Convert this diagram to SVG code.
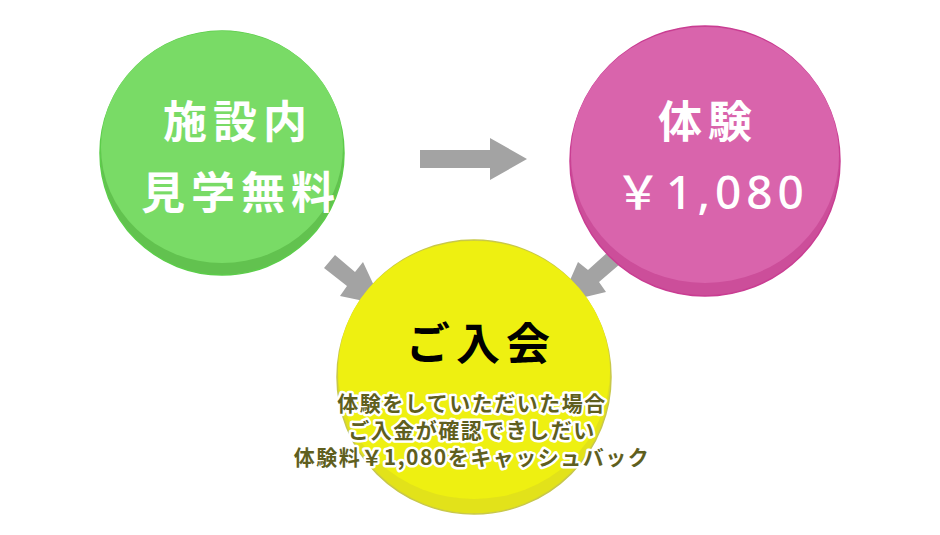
<svg xmlns="http://www.w3.org/2000/svg" width="940" height="535" viewBox="0 0 940 535">
<style>
.big{font-family:"Noto Sans CJK JP","Noto Sans",sans-serif;font-weight:bold;text-anchor:middle}
.w{fill:#fff;font-size:44px;letter-spacing:6px}
.sm{font-family:"Noto Sans CJK JP","Noto Sans",sans-serif;font-weight:bold;font-size:21px;letter-spacing:1.5px;text-anchor:middle;fill:#5f5f1e;stroke:#fff;stroke-width:5px;paint-order:stroke;stroke-linejoin:round}
.arr{fill:#a3a3a3}
</style>
<rect width="940" height="535" fill="#fff"/>
<g id="connectors">
<polygon class="arr" points="420,150 490,150 490,138 527,159 490,180 490,168 420,168"/>
<polygon class="arr" points="324,268 335,255 355,272 363,262 383,305 340,296 347,286"/>
<polygon class="arr" points="608,252 620,264 599,282 606,292 560,303 578,262 588,270"/>
</g>
<g id="green">
<circle cx="222" cy="153" r="122" fill="#62c24f" stroke="#5ccd4a" stroke-width="1.5"/>
<ellipse cx="222" cy="147" rx="121" ry="116" fill="#79db66"/>
<text class="big w" x="238" y="138">施設内</text>
<text class="big w" x="241" y="209">見学無料</text>
</g>
<g id="pink">
<circle cx="705" cy="161" r="135" fill="#cc4e9a" stroke="#c93d92" stroke-width="1.5"/>
<ellipse cx="705" cy="155" rx="134" ry="128" fill="#d964ac"/>
<text class="big w" x="708" y="138">体験</text>
<text class="w" x="712" y="209" text-anchor="middle" style="font-family:'Noto Sans','Noto Sans CJK JP',sans-serif;font-weight:500;font-size:46px;letter-spacing:5px">￥1,080</text>
</g>
<g id="yellow">
<circle cx="474" cy="377" r="137" fill="#e2e21a" stroke="#c8c84a" stroke-width="1.5"/>
<ellipse cx="474" cy="370" rx="136" ry="129" fill="#eef011"/>
<text class="big" x="481" y="360" font-size="44" letter-spacing="6">ご入会</text>
<text class="sm" x="472" y="411">体験をしていただいた場合</text>
<text class="sm" x="472" y="438">ご入金が確認できしだい</text>
<text class="sm" x="472" y="465">体験料￥1,080をキャッシュバック</text>
</g>
</svg>
